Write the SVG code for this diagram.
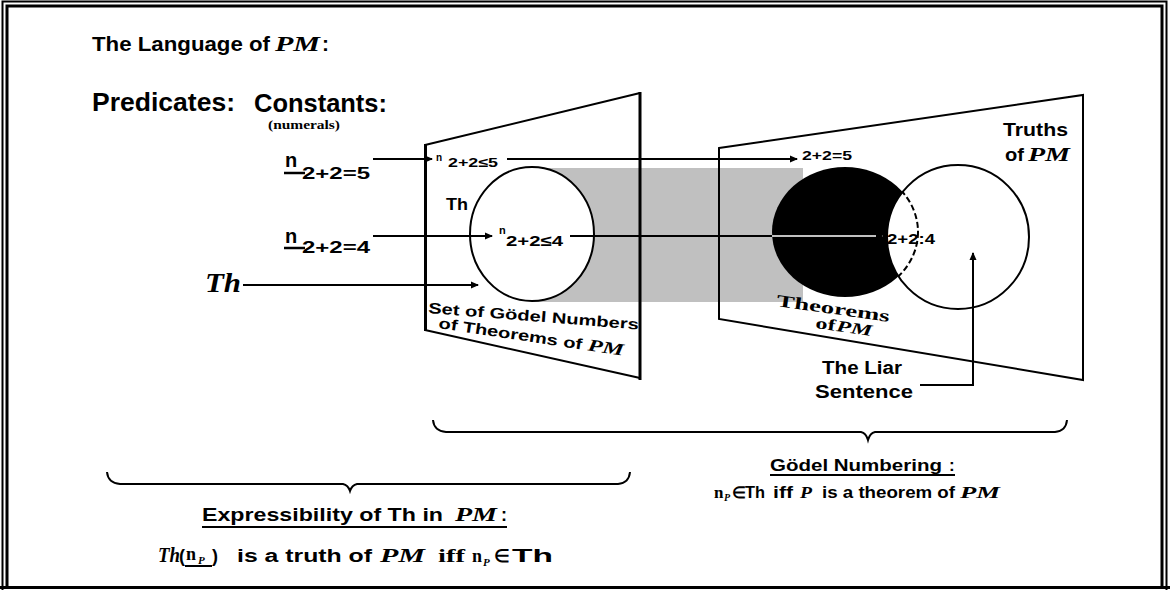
<svg xmlns="http://www.w3.org/2000/svg" width="1170" height="590" viewBox="0 0 1170 590">
<style>
.t{font-family:"Liberation Sans",Arial,sans-serif;font-weight:bold;fill:#000}
.s{font-family:"Liberation Serif","Times New Roman",serif;font-weight:bold;fill:#000}
.pm{font-family:"Liberation Serif","Times New Roman",serif;font-style:italic;font-weight:bold;fill:#000}
.ln{stroke:#000;stroke-width:2;fill:none}
.thick{stroke:#000;stroke-width:3;fill:none}
</style>
<defs>
<marker id="ah" markerWidth="8" markerHeight="8" refX="7" refY="4" orient="auto" markerUnits="userSpaceOnUse"><path d="M0,0.5 L8,4 L0,7.5 z" fill="#000"/></marker>
<clipPath id="truthClip"><ellipse cx="958" cy="237" rx="71" ry="72"/></clipPath>
</defs>
<rect width="1170" height="590" fill="#fff"/>
<g id="border">
<path d="M2.5,590 V1.5 H1166.5 V590" class="ln" stroke-width="1.5"/>
<path d="M7,587 V6 H1162 V587" class="thick"/>
<line x1="0" y1="587.5" x2="1170" y2="587.5" stroke="#000" stroke-width="3"/>
</g>
<g id="title">
<text class="t" x="92" y="51" font-size="21" textLength="178" lengthAdjust="spacingAndGlyphs">The Language of</text>
<text class="pm" x="275" y="51" font-size="21" textLength="45" lengthAdjust="spacingAndGlyphs">PM</text>
<text class="t" x="322" y="51" font-size="21">:</text>
</g>
<g id="headers">
<text class="t" x="92" y="111" font-size="25" textLength="143" lengthAdjust="spacingAndGlyphs">Predicates:</text>
<text class="t" x="254" y="112" font-size="25" textLength="133" lengthAdjust="spacingAndGlyphs">Constants:</text>
<text class="s" x="268" y="129" font-size="12" textLength="72" lengthAdjust="spacingAndGlyphs">(numerals)</text>
</g>
<g id="gray-band"><rect x="533" y="168" width="270" height="134" fill="#c0c0c0"/></g>
<g id="left-panel">
<path d="M425,330 L640,378" class="ln" stroke-width="1.5"/>
<path d="M425,145 L640,93" class="ln" stroke-width="1.5"/>
<line x1="425.5" y1="144" x2="425.5" y2="331" class="thick"/>
<line x1="640" y1="92" x2="640" y2="380" class="thick"/>
<ellipse cx="532" cy="234" rx="62" ry="67" fill="#fff" stroke="#000" stroke-width="2"/>
<text class="t" x="446" y="210" font-size="17" textLength="22" lengthAdjust="spacingAndGlyphs">Th</text>
<text class="t" x="428" y="313" font-size="15" textLength="211" lengthAdjust="spacingAndGlyphs" transform="rotate(4.5 428 313)">Set of Gödel Numbers</text>
<g transform="rotate(8.5 438 328)">
<text class="t" x="438" y="328" font-size="15" textLength="145" lengthAdjust="spacingAndGlyphs">of Theorems of</text>
<text class="pm" x="589" y="328" font-size="17" textLength="36" lengthAdjust="spacingAndGlyphs">PM</text>
</g>
</g>
<g id="right-panel">
<path d="M719,148 L1083,95 L1083,380 L719,319 Z" class="ln"/>
<ellipse cx="845" cy="232" rx="73" ry="65" fill="#000"/>
<ellipse cx="958" cy="237" rx="71" ry="72" fill="#fff" stroke="#000" stroke-width="2"/>
<ellipse cx="845" cy="232" rx="73" ry="65" fill="none" stroke="#000" stroke-width="2" stroke-dasharray="6,3" clip-path="url(#truthClip)"/>
<text class="t" x="1003" y="136" font-size="18" textLength="65" lengthAdjust="spacingAndGlyphs">Truths</text>
<text class="t" x="1005" y="161" font-size="18" textLength="19" lengthAdjust="spacingAndGlyphs">of</text>
<text class="pm" x="1028" y="161" font-size="18" textLength="42" lengthAdjust="spacingAndGlyphs">PM</text>
<g transform="rotate(8 776 306)">
<text class="s" x="776" y="306" font-size="17" textLength="114" lengthAdjust="spacingAndGlyphs">Theorems</text>
</g>
<g transform="rotate(8 815 328)">
<text class="s" x="815" y="328" font-size="16" textLength="20" lengthAdjust="spacingAndGlyphs">of</text>
<text class="pm" x="836" y="328" font-size="16" textLength="36" lengthAdjust="spacingAndGlyphs">PM</text>
</g>
<text class="t" x="822" y="374" font-size="18" textLength="80" lengthAdjust="spacingAndGlyphs">The Liar</text>
<text class="t" x="815" y="398" font-size="18" textLength="98" lengthAdjust="spacingAndGlyphs">Sentence</text>
</g>
<g id="constants">
<text class="t" x="285" y="167" font-size="20">n</text>
<line x1="284" y1="173" x2="305" y2="173" stroke="#000" stroke-width="2.5"/>
<text class="t" x="302" y="179" font-size="17" textLength="68" lengthAdjust="spacingAndGlyphs">2+2=5</text>
<text class="t" x="285" y="243" font-size="20">n</text>
<line x1="284" y1="248" x2="305" y2="248" stroke="#000" stroke-width="2.5"/>
<text class="t" x="302" y="253" font-size="17" textLength="68" lengthAdjust="spacingAndGlyphs">2+2=4</text>
<text class="pm" x="205" y="292" font-size="28" textLength="36" lengthAdjust="spacingAndGlyphs">Th</text>
</g>
<g id="labels">
<text class="t" x="436" y="161" font-size="10">n</text>
<text class="t" x="448" y="167" font-size="13" textLength="50" lengthAdjust="spacingAndGlyphs">2+2≤5</text>
<text class="t" x="499" y="234" font-size="11">n</text>
<text class="t" x="506" y="246" font-size="15" textLength="57" lengthAdjust="spacingAndGlyphs">2+2≤4</text>
<text class="t" x="802" y="160" font-size="12" textLength="50" lengthAdjust="spacingAndGlyphs">2+2=5</text>
<text class="t" x="887" y="244" font-size="15" textLength="48" lengthAdjust="spacingAndGlyphs">2+2:4</text>
</g>
<g id="connectors">
<line x1="373" y1="159" x2="432" y2="159" class="ln" marker-end="url(#ah)"/>
<line x1="507" y1="159" x2="797" y2="159" class="ln" marker-end="url(#ah)"/>
<line x1="373" y1="236" x2="492" y2="236" class="ln" marker-end="url(#ah)"/>
<line x1="570" y1="236" x2="772" y2="236" class="ln"/>
<line x1="772" y1="236" x2="883" y2="236" stroke="#c0c0c0" stroke-width="2" marker-end="url(#ah)"/>
<line x1="243" y1="285" x2="478" y2="285" class="ln" marker-end="url(#ah)"/>
<polyline points="920,385 973,385 973,253" class="ln" marker-end="url(#ah)"/>
<path d="M433,420 Q434,431 446,432 L861,432 Q866,433 868,440 Q870,433 875,432 L1055,432 Q1066,431 1067,420" class="ln"/>
<path d="M107,472 Q108,483 120,484 L343,484 Q348,485 350,491 Q352,485 357,484 L618,484 Q629,483 630,472" class="ln"/>
</g>
<g id="expressibility">
<text class="t" x="202" y="521" font-size="18" textLength="241" lengthAdjust="spacingAndGlyphs">Expressibility of Th in</text>
<text class="pm" x="455" y="521" font-size="18" textLength="42" lengthAdjust="spacingAndGlyphs">PM</text>
<text class="t" x="501" y="521" font-size="18">:</text>
<line x1="202" y1="527" x2="507" y2="527" stroke="#000" stroke-width="2"/>
<text class="pm" x="158" y="562" font-size="20" textLength="22" lengthAdjust="spacingAndGlyphs">Th</text>
<text class="t" x="179" y="562" font-size="18">(</text>
<text class="s" x="186" y="560" font-size="18">n</text>
<text class="pm" x="198" y="564" font-size="11">P</text>
<line x1="185" y1="566" x2="212" y2="566" stroke="#000" stroke-width="2"/>
<text class="t" x="212" y="562" font-size="18">)</text>
<text class="t" x="237" y="562" font-size="18" textLength="135" lengthAdjust="spacingAndGlyphs">is a truth of</text>
<text class="pm" x="380" y="562" font-size="18" textLength="45" lengthAdjust="spacingAndGlyphs">PM</text>
<text class="s" x="438" y="562" font-size="18" textLength="27" lengthAdjust="spacingAndGlyphs">iff</text>
<text class="s" x="472" y="562" font-size="18">n</text>
<text class="pm" x="483" y="566" font-size="11">P</text>
<text class="t" x="494" y="562" font-size="18">∈</text>
<text class="t" x="512" y="562" font-size="18" textLength="41" lengthAdjust="spacingAndGlyphs">Th</text>
</g>
<g id="goedel-numbering">
<text class="t" x="770" y="471" font-size="17" textLength="172" lengthAdjust="spacingAndGlyphs">Gödel Numbering</text>
<text class="t" x="949" y="471" font-size="17">:</text>
<line x1="770" y1="475" x2="955" y2="475" stroke="#000" stroke-width="2"/>
<text class="s" x="714" y="498" font-size="17">n</text>
<text class="pm" x="724" y="501" font-size="10">P</text>
<text class="t" x="732" y="498" font-size="16">∈</text>
<text class="t" x="745" y="498" font-size="16" textLength="20" lengthAdjust="spacingAndGlyphs">Th</text>
<text class="t" x="773" y="498" font-size="16" textLength="20" lengthAdjust="spacingAndGlyphs">iff</text>
<text class="pm" x="800" y="498" font-size="16" textLength="12" lengthAdjust="spacingAndGlyphs">P</text>
<text class="t" x="822" y="498" font-size="16" textLength="133" lengthAdjust="spacingAndGlyphs">is a theorem of</text>
<text class="pm" x="960" y="498" font-size="16" textLength="40" lengthAdjust="spacingAndGlyphs">PM</text>
</g>
</svg>
